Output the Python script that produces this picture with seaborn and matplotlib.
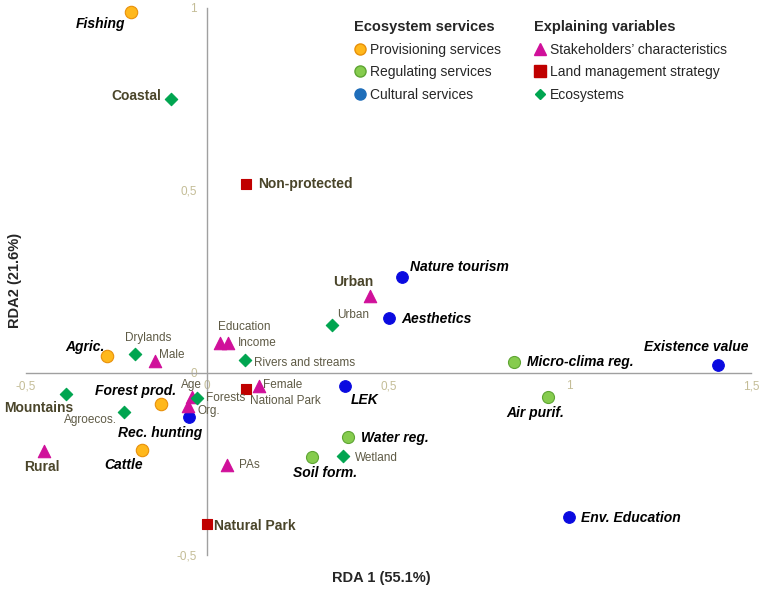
import numpy as np
import pandas as pd
import matplotlib
matplotlib.use('Agg')
import matplotlib.pyplot as plt
from matplotlib.lines import Line2D
from matplotlib.ticker import FuncFormatter
import seaborn as sns

# ecosystem services (RDA scores)
prov_names = ['Fishing', 'Agric.', 'Forest prod.', 'Cattle']
prov_x = [-0.21, -0.276, -0.127, -0.179]
prov_y = [0.99, 0.047, -0.085, -0.211]

reg_names = ['Micro-clima reg.', 'Air purif.', 'Water reg.', 'Soil form.']
reg_x = [0.847, 0.941, 0.389, 0.290]
reg_y = [0.030, -0.066, -0.176, -0.230]

cult_names = ['Nature tourism', 'Aesthetics', 'Existence value', 'LEK', 'Rec. hunting', 'Env. Education']
cult_x = [0.538, 0.502, 1.41, 0.381, -0.050, 0.999]
cult_y = [0.263, 0.151, 0.022, -0.036, -0.121, -0.395]

# explaining variables
stake_names = ['Urban', 'Education', 'Income', 'Male', 'Female', 'Age', 'Org.', 'Rural', 'PAs']
stake_x = [0.450, 0.036, 0.058, -0.143, 0.143, -0.041, -0.052, -0.450, 0.055]
stake_y = [0.211, 0.082, 0.082, 0.033, -0.036, -0.066, -0.091, -0.214, -0.252]

land_names = ['Non-protected', 'National Park', 'Natural Park']
land_x = [0.108, 0.108, 0.0]
land_y = [0.516, -0.044, -0.414]

eco_names = ['Coastal', 'Urban ', 'Rivers and streams', 'Drylands', 'Forests', 'Mountains', 'Agroecos.', 'Wetland']
eco_x = [-0.100, 0.345, 0.105, -0.200, -0.028, -0.389, -0.229, 0.375]
eco_y = [0.750, 0.132, 0.036, 0.052, -0.069, -0.058, -0.107, -0.228]

bold_vars = ['Urban', 'Rural', 'Non-protected', 'Natural Park', 'Coastal', 'Mountains']

frames = []
for grp, n, x, y in [('prov', prov_names, prov_x, prov_y),
                     ('reg', reg_names, reg_x, reg_y),
                     ('cult', cult_names, cult_x, cult_y),
                     ('stake', stake_names, stake_x, stake_y),
                     ('land', land_names, land_x, land_y),
                     ('eco', eco_names, eco_x, eco_y)]:
    frames.append(pd.DataFrame({'name': n, 'x': x, 'y': y, 'group': grp}))
df = pd.concat(frames, ignore_index=True)

styles = {
    'prov': dict(marker='o', color='#FFB81C', edgecolor='#E8900A', s=80),
    'reg': dict(marker='o', color='#86CC4E', edgecolor='#5EA533', s=75),
    'cult': dict(marker='o', color='#0A0AE0', edgecolor='#0A0AE0', s=70),
    'stake': dict(marker='^', color='#D0109A', edgecolor='#D0109A', s=80),
    'land': dict(marker='s', color='#C00000', edgecolor='#C00000', s=55),
    'eco': dict(marker='D', color='#00A550', edgecolor='#00A550', s=40),
}

# label placement: (dx, dy) in pixels, horizontal alignment
label_pos = {
    'Fishing': (-6, -12, 'right'), 'Agric.': (-3, 9, 'right'),
    'Forest prod.': (15, 13, 'right'), 'Cattle': (1, -15, 'right'),
    'Micro-clima reg.': (13, 0, 'left'), 'Air purif.': (-13, -16, 'center'),
    'Water reg.': (13, -1, 'left'), 'Soil form.': (13, -16, 'center'),
    'Nature tourism': (8, 10, 'left'), 'Aesthetics': (12, -1, 'left'),
    'Existence value': (30, 18, 'right'), 'LEK': (5, -14, 'left'),
    'Rec. hunting': (13, -16, 'right'), 'Env. Education': (12, -1, 'left'),
    'Urban': (-17, 14, 'center'), 'Education': (24, 16, 'center'),
    'Income': (10, 0, 'left'), 'Male': (4, 6, 'left'),
    'Female': (4, 1, 'left'), 'Age': (-1, 12, 'center'),
    'Org.': (9, -5, 'left'), 'Rural': (-2, -16, 'center'),
    'PAs': (12, 0, 'left'), 'Non-protected': (12, 0, 'left'),
    'National Park': (4, -12, 'left'), 'Natural Park': (7, -2, 'left'),
    'Coastal': (-10, 3, 'right'), 'Urban ': (5, 10, 'left'),
    'Rivers and streams': (9, -3, 'left'), 'Drylands': (13, 16, 'center'),
    'Forests': (9, 0, 'left'), 'Mountains': (7, -14, 'right'),
    'Agroecos.': (-7, -8, 'right'), 'Wetland': (12, -2, 'left'),
}

sns.set_style('white')
plt.rcParams['font.family'] = ['Liberation Sans', 'DejaVu Sans']

fig = plt.figure(figsize=(7.62, 5.90), dpi=100)
ax = fig.add_axes([26 / 762, 35 / 590, 725 / 762, 547 / 590])

for grp, st in styles.items():
    sub = df[df['group'] == grp]
    sns.scatterplot(data=sub, x='x', y='y', ax=ax, marker=st['marker'], color=st['color'],
                    edgecolor=st['edgecolor'], s=st['s'], linewidth=0.8, zorder=3,
                    clip_on=False, legend=False)

olive = '#4A452A'
light_olive = '#5E5A45'
for _, r in df.iterrows():
    dx, dy, ha = label_pos[r['name']]
    txt = r['name'].strip()
    if r['group'] in ('prov', 'reg', 'cult'):
        kw = dict(fontsize=10, fontweight='bold', fontstyle='italic', color='black')
    elif txt in bold_vars and r['name'] == txt:
        kw = dict(fontsize=10, fontweight='bold', color=olive)
    else:
        kw = dict(fontsize=8.5, color=light_olive)
    ax.annotate(txt, (r['x'], r['y']), xytext=(dx, dy), textcoords='offset pixels',
                ha=ha, va='center', annotation_clip=False, zorder=4, **kw)

ax.set_xlim(-0.5, 1.5)
ax.set_ylim(-0.5, 1.0)
ax.set_xticks([-0.5, 0, 0.5, 1, 1.5])
ax.set_yticks([-0.5, 0, 0.5, 1])
fmt = FuncFormatter(lambda v, p: ('%g' % v).replace('.', ','))
ax.xaxis.set_major_formatter(fmt)
ax.yaxis.set_major_formatter(fmt)

for s in ['top', 'right']:
    ax.spines[s].set_visible(False)
for s in ['left', 'bottom']:
    ax.spines[s].set_position(('data', 0))
    ax.spines[s].set_color('#A0A0A0')
    ax.spines[s].set_linewidth(1.0)
ax.tick_params(direction='inout', length=7, width=1, color='#A0A0A0',
               labelcolor='#C4BD97', labelsize=8.5, pad=2)
ax.tick_params(axis='y', pad=4)
ax.set_xlabel('')
ax.set_ylabel('')
ax.patch.set_alpha(0)

fig.text(381 / 762, 1 - 578 / 590, 'RDA 1 (55.1%)', ha='center', va='center',
         fontsize=10.5, fontweight='bold')
fig.text(15 / 762, 1 - 280 / 590, 'RDA2 (21.6%)', ha='center', va='center',
         rotation=90, fontsize=10.5, fontweight='bold')

def handle(grp, ms):
    st = styles[grp]
    return Line2D([], [], ls='', marker=st['marker'], markersize=ms,
                  markerfacecolor=st['color'], markeredgecolor=st['edgecolor'])

h1 = [handle('prov', 8), handle('reg', 8),
      Line2D([], [], ls='', marker='o', markersize=8, markerfacecolor='#1F6EBA',
             markeredgecolor='#1F6EBA')]
l1 = ['Provisioning services', 'Regulating services', 'Cultural services']
h2 = [handle('stake', 9), handle('land', 8), handle('eco', 5.5)]
l2 = ['Stakeholders\u2019 characteristics', 'Land management strategy', 'Ecosystems']

common = dict(frameon=False, loc='upper left', fontsize=10, handlelength=0.8,
              handletextpad=0.35, labelspacing=0.62, borderpad=0, borderaxespad=0,
              alignment='left', title_fontproperties={'weight': 'bold', 'size': 10.5})
leg1 = fig.legend(h1, l1, title='Ecosystem services',
                  bbox_to_anchor=(354 / 762, 1 - 20 / 590), **common)
leg2 = fig.legend(h2, l2, title='Explaining variables',
                  bbox_to_anchor=(534 / 762, 1 - 20 / 590), **common)

fig.savefig('out.png', dpi=100)
